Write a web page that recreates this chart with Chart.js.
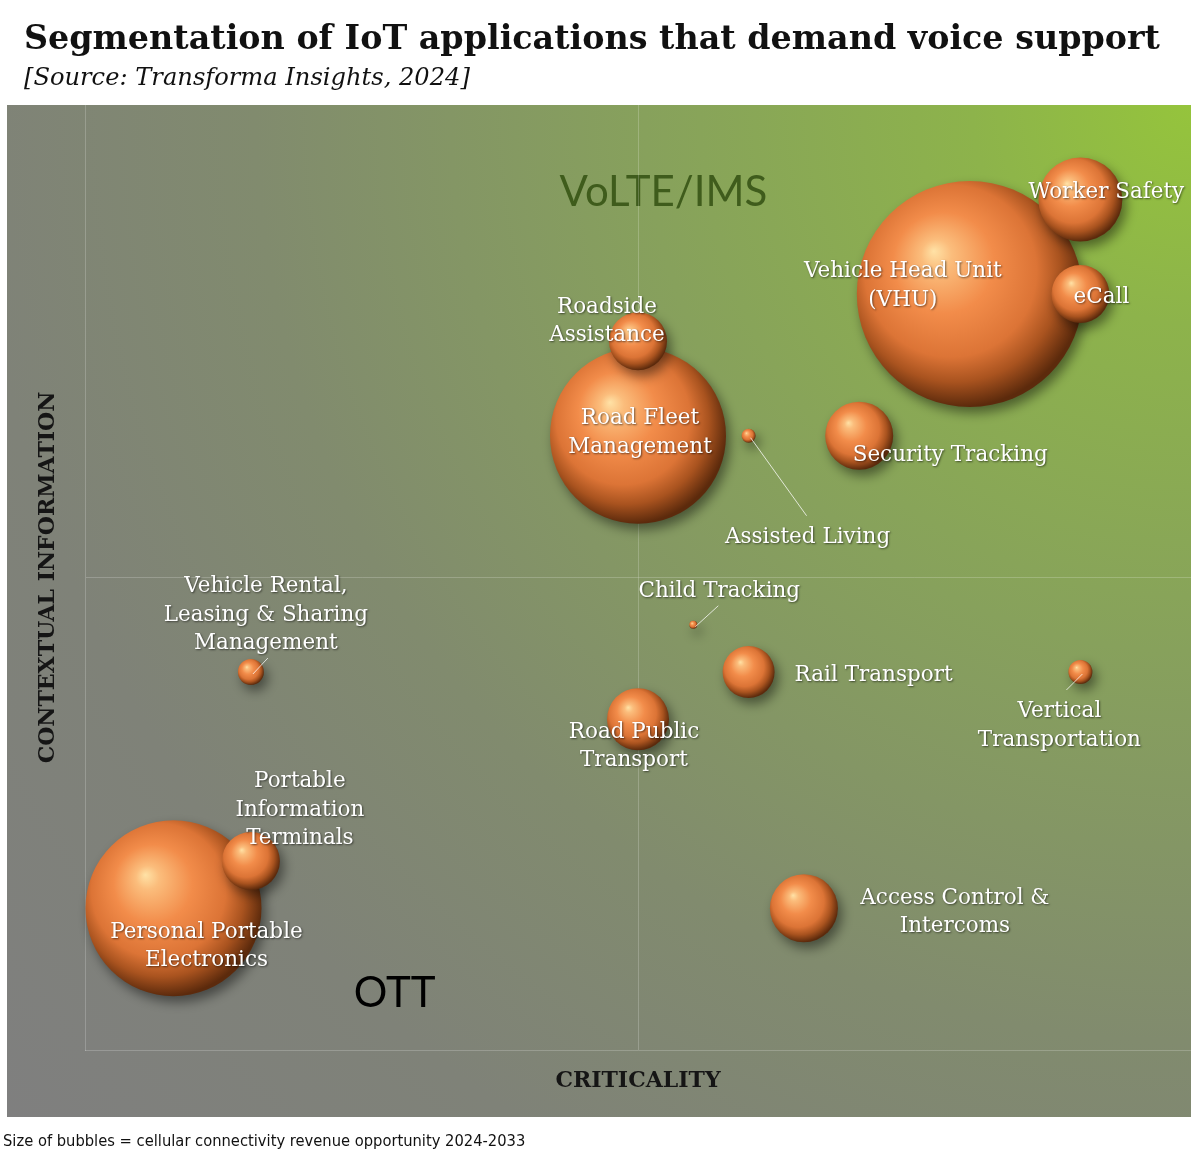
<!DOCTYPE html>
<html>
<head>
<meta charset="utf-8">
<script src="https://cdn.jsdelivr.net/npm/chart.js@4.4.1/dist/chart.umd.min.js"></script>
<style>
  html, body { margin: 0; padding: 0; background: #fff; }
  #wrap { width: 1200px; height: 1161px; }
</style>
</head>
<body>
<div id="wrap"><canvas id="myChart" width="1200" height="1161"></canvas></div>
<script>
// bubbles, big ones first so the small ones sit on top
const categories = [
  'Vehicle Head Unit\n(VHU)', 'Road Fleet\nManagement', 'Personal Portable\nElectronics',
  'Worker Safety', 'eCall', 'Roadside\nAssistance', 'Portable\nInformation\nTerminals',
  'Security Tracking', 'Access Control &\nIntercoms', 'Road Public\nTransport',
  'Rail Transport', 'Vehicle Rental,\nLeasing & Sharing\nManagement',
  'Vertical\nTransportation', 'Assisted Living', 'Child Tracking'
];
const criticality = [8, 5, 0.8, 9, 9, 5, 1.5, 7, 6.5, 5, 6, 1.5, 9, 6, 5.5];
const contextInfo = [8, 6.5, 1.5, 9, 8, 7.5, 2, 6.5, 1.5, 3.5, 4, 4, 4, 6.5, 4.5];
const bubbleSize = [113, 88, 88, 42, 29, 29, 29, 34, 34, 31, 26, 13, 12, 7, 4];
const axisTicks = [0, 5, 10];

// label placement: offset of text block centre from bubble centre, optional leader end
const labelOffsets = [
  [-67, -8], [2, -3], [33, 38], [26, -7], [21, 3], [-31, -20], [49, -51],
  [91, 20], [151, 4], [-4, 27], [125, 3], [15, -57], [-21, 54], [59, 102], [26, -33]
];
const leaders = { 11: [17, -14], 12: [-14, 18], 13: [58, 80], 14: [25, -19] };

const serif = '"DejaVu Serif", serif';

function fitFont(ctx, text, style, family, width) {
  ctx.font = style + ' 40px ' + family;
  const s = 40 * width / ctx.measureText(text).width;
  ctx.font = style + ' ' + s.toFixed(2) + 'px ' + family;
}

const backdrop = {
  id: 'backdrop',
  beforeDraw(chart) {
    const ctx = chart.ctx;
    ctx.save();
    ctx.fillStyle = '#fff';
    ctx.fillRect(0, 0, chart.width, chart.height);
    const g = ctx.createRadialGradient(1191, 105, 0, 1191, 105, 1560);
    g.addColorStop(0, '#95c43c');
    g.addColorStop(0.14, '#8db34b');
    g.addColorStop(0.35, '#87a15c');
    g.addColorStop(0.6, '#818b6e');
    g.addColorStop(0.78, '#7f8278');
    g.addColorStop(1, '#7f7f7f');
    ctx.fillStyle = g;
    ctx.fillRect(7, 105, 1184, 1012);

    ctx.fillStyle = '#111';
    ctx.textBaseline = 'alphabetic';
    ctx.textAlign = 'left';
    const title = 'Segmentation of IoT applications that demand voice support';
    fitFont(ctx, title, 'bold', serif, 1136);
    ctx.fillText(title, 24, 49);
    const sub = '[Source: Transforma Insights, 2024]';
    fitFont(ctx, sub, 'italic', serif, 446);
    ctx.fillText(sub, 24, 85);
    const note = 'Size of bubbles = cellular connectivity revenue opportunity 2024-2033';
    fitFont(ctx, note, '', '"Liberation Sans Narrow", "DejaVu Sans Condensed", sans-serif', 523);
    ctx.fillText(note, 3, 1146);

    // quadrant names
    const x = chart.scales.x, y = chart.scales.y;
    ctx.textAlign = 'center';
    ctx.textBaseline = 'middle';
    ctx.font = '42px Lato, sans-serif';
    ctx.fillStyle = '#3f5c1c';
    ctx.fillText('VoLTE/IMS', x.getPixelForValue(5.23), y.getPixelForValue(9.07));
    ctx.fillStyle = '#000';
    ctx.fillText('OTT', x.getPixelForValue(2.8), y.getPixelForValue(0.6));
    ctx.restore();
  }
};

const shadow = {
  id: 'shadow',
  beforeDatasetsDraw(chart) {
    const ctx = chart.ctx;
    ctx.save();
    ctx.shadowColor = 'rgba(0,0,0,0.45)';
    ctx.shadowBlur = 12;
    ctx.shadowOffsetX = 4;
    ctx.shadowOffsetY = 6;
  },
  afterDatasetsDraw(chart) {
    chart.ctx.restore();
  }
};

const labels = {
  id: 'labels',
  afterDraw(chart) {
    const ctx = chart.ctx;
    const meta = chart.getDatasetMeta(0);
    ctx.save();
    meta.data.forEach((pt, i) => {
      const off = labelOffsets[i];
      if (leaders[i]) {
        ctx.shadowColor = 'transparent';
        ctx.strokeStyle = 'rgba(255,255,255,0.75)';
        ctx.lineWidth = 1;
        ctx.beginPath();
        ctx.moveTo(pt.x + 2, pt.y + 2);
        ctx.lineTo(pt.x + leaders[i][0], pt.y + leaders[i][1]);
        ctx.stroke();
      }
      const lines = categories[i].split('\n');
      const lh = 28.5;
      const cx = pt.x + off[0];
      const cy0 = pt.y + off[1] - (lines.length - 1) * lh / 2;
      ctx.font = '21.5px ' + serif;
      ctx.textAlign = 'center';
      ctx.textBaseline = 'middle';
      ctx.shadowColor = 'rgba(0,0,0,0.55)';
      ctx.shadowBlur = 2;
      ctx.shadowOffsetX = 1;
      ctx.shadowOffsetY = 1;
      ctx.fillStyle = '#fff';
      lines.forEach((ln, k) => ctx.fillText(ln, cx, cy0 + k * lh));
    });
    ctx.restore();
  }
};

function sphere(context) {
  const chart = context.chart;
  const raw = context.raw;
  if (!raw || !chart.scales.x) return '#e8813f';
  const cx = chart.scales.x.getPixelForValue(raw.x);
  const cy = chart.scales.y.getPixelForValue(raw.y);
  const r = raw.r;
  if (!isFinite(cx) || !isFinite(cy) || !isFinite(r)) return '#e8813f';
  const g = chart.ctx.createRadialGradient(cx - 0.32 * r, cy - 0.38 * r, 0, cx - 0.1 * r, cy - 0.12 * r, r * 1.12);
  g.addColorStop(0, '#ffe2a6');
  g.addColorStop(0.12, '#fbbd7c');
  g.addColorStop(0.4, '#f28c4a');
  g.addColorStop(0.68, '#dc7436');
  g.addColorStop(0.84, '#a9531f');
  g.addColorStop(1, '#5c2a0c');
  return g;
}

const points = categories.map((c, i) => ({ x: criticality[i], y: contextInfo[i], r: bubbleSize[i] }));

const gridColor = 'rgba(255,255,255,0.2)';

new Chart(document.getElementById('myChart'), {
  type: 'bubble',
  data: {
    datasets: [{
      label: 'IoT applications',
      data: points,
      backgroundColor: sphere,
      borderWidth: 0,
      clip: false
    }]
  },
  options: {
    responsive: false,
    animation: false,
    layout: { autoPadding: false, padding: { left: 34.8, right: 9, top: 105, bottom: 66.8 } },
    scales: {
      x: {
        type: 'linear',
        min: axisTicks[0],
        max: axisTicks[2],
        ticks: { display: false, stepSize: axisTicks[1] },
        grid: {
          drawTicks: false,
          color: (c) => c.tick && c.tick.value === axisTicks[1] ? gridColor : 'transparent'
        },
        border: { display: true, color: gridColor },
        title: {
          display: true,
          text: 'CRITICALITY',
          color: '#151515',
          font: { family: serif, size: 22, weight: 'bold' },
          padding: { top: 17.8, bottom: 0 }
        }
      },
      y: {
        type: 'linear',
        min: axisTicks[0],
        max: axisTicks[2],
        ticks: { display: false, stepSize: axisTicks[1] },
        grid: {
          drawTicks: false,
          color: (c) => c.tick && c.tick.value === axisTicks[1] ? gridColor : 'transparent'
        },
        border: { display: true, color: gridColor },
        title: {
          display: true,
          text: 'CONTEXTUAL INFORMATION',
          color: '#151515',
          font: { family: serif, size: 22, weight: 'bold' },
          padding: { top: 0, bottom: 23.8 }
        }
      }
    },
    plugins: {
      legend: { display: false },
      tooltip: { enabled: false }
    }
  },
  plugins: [backdrop, shadow, labels]
});
</script>
</body>
</html>
